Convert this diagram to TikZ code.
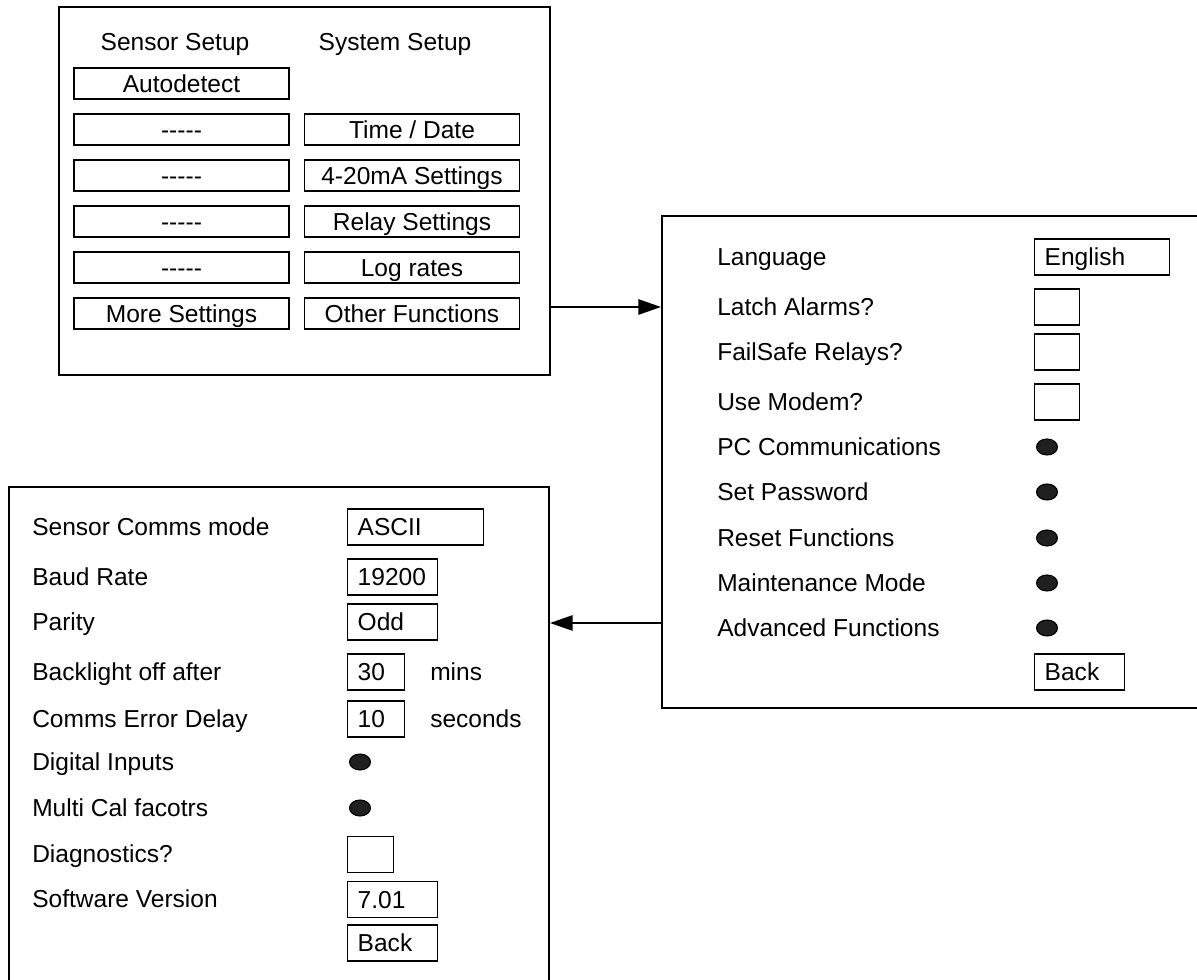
\documentclass[tikz,border=0pt]{standalone}
\usepackage{fontspec}
\setmainfont{Liberation Sans}
\usetikzlibrary{arrows.meta,shapes.geometric}
\newlength\pxu
\setlength{\pxu}{0.75pt}
% cap height of the 18.4pt face, used to centre every line of text on its row
\newlength\caph
\setlength{\caph}{13.17pt}
\tikzset{
  every node/.style={font=\fontsize{18.4pt}{22pt}\selectfont},
  panel/.style={draw, line width=1.5pt, rectangle, inner sep=0pt},
  btn/.style={draw, line width=1.1pt, inner sep=0pt, minimum width=215\pxu,
    minimum height=31\pxu, text height=\caph, text depth=0pt},
  field/.style={draw, line width=1.1pt, inner xsep=10\pxu, inner ysep=0pt,
    minimum height=36\pxu, text height=\caph, text depth=0pt,
    align=left, anchor=west, text width=#1},
  check/.style={draw, line width=1.1pt, inner sep=0pt, minimum width=#1,
    minimum height=36\pxu, anchor=west},
  dot/.style={ellipse, draw, fill=black!88, line width=0.8pt, inner sep=0pt,
    minimum width=21\pxu, minimum height=16\pxu},
  lbl/.style={anchor=west, inner sep=0pt, text height=\caph, text depth=0pt},
  hdr/.style={inner sep=0pt, text height=\caph, text depth=0pt},
  link/.style={line width=1.3pt, -{Triangle[length=17pt,width=11.5pt]}},
}
\newcommand{\blank}{-{}-{}-{}-{}-}
\begin{document}
\begin{tikzpicture}[x=0.75pt, y=-0.75pt]
\useasboundingbox (0,0) rectangle (1197,980);
\clip (0,0) rectangle (1197,980);

% ---------- main setup screen ----------
\node[panel, minimum width=491\pxu, minimum height=368\pxu] (main) at (304.5,191) {};
\node[hdr] (hsensor) at (175,42) {Sensor Setup};
\node[hdr] (hsystem) at (395,42) {System Setup};

\node[btn] (auto)  at (181.5,83.5)  {Autodetect};
\node[btn] (s1)    at (181.5,129.5) {\blank};
\node[btn] (s2)    at (181.5,175.5) {\blank};
\node[btn] (s3)    at (181.5,221.5) {\blank};
\node[btn] (s4)    at (181.5,267.5) {\blank};
\node[btn] (more)  at (181.5,313.5) {More Settings};

\node[btn] (time)  at (412,129.5) {Time / Date};
\node[btn] (ma)    at (412,175.5) {4-20mA Settings};
\node[btn] (relay) at (412,221.5) {Relay Settings};
\node[btn] (log)   at (412,267.5) {Log rates};
\node[btn] (other) at (412,313.5) {Other Functions};

% ---------- other functions screen ----------
\node[panel, minimum width=600\pxu, minimum height=492\pxu] (setup) at (962,462) {};

\node[lbl] (lLang)  at (717,257) {Language};
\node[lbl] (lLatch) at (717,307) {Latch Alarms?};
\node[lbl] (lFail)  at (717,352) {FailSafe Relays?};
\node[lbl] (lModem) at (717,402) {Use Modem?};
\node[lbl] (lPC)    at (717,447) {PC Communications};
\node[lbl] (lPass)  at (717,492) {Set Password};
\node[lbl] (lReset) at (717,538) {Reset Functions};
\node[lbl] (lMaint) at (717,583) {Maintenance Mode};
\node[lbl] (lAdv)   at (717,628) {Advanced Functions};

\node[field=115\pxu] (fLang) at (1034,257) {English};
\node[check=45\pxu] (cLatch) at (1034,307) {};
\node[check=45\pxu] (cFail)  at (1034,352) {};
\node[check=45\pxu] (cModem) at (1034,402) {};
\node[dot] (dPC)    at (1047,447) {};
\node[dot] (dPass)  at (1047,492) {};
\node[dot] (dReset) at (1047,538) {};
\node[dot] (dMaint) at (1047,583) {};
\node[dot] (dAdv)   at (1047,628) {};
\node[field=70\pxu] (bBack1) at (1034,672) {Back};

% ---------- more settings screen ----------
\node[panel, minimum width=540\pxu, minimum height=560\pxu] (comms) at (279,767) {};

\node[lbl] (lMode)  at (32,527) {Sensor Comms mode};
\node[lbl] (lBaud)  at (32,577) {Baud Rate};
\node[lbl] (lPar)   at (32,622) {Parity};
\node[lbl] (lLight) at (32,672) {Backlight off after};
\node[lbl] (lErr)   at (32,719) {Comms Error Delay};
\node[lbl] (lDig)   at (32,762) {Digital Inputs};
\node[lbl] (lCal)   at (32,808) {Multi Cal facotrs};
\node[lbl] (lDiag)  at (32,854) {Diagnostics?};
\node[lbl] (lVer)   at (32,899) {Software Version};

\node[field=116\pxu] (fMode)  at (347,527) {ASCII};
\node[field=70\pxu]  (fBaud)  at (347,577) {19200};
\node[field=70\pxu]  (fPar)   at (347,622) {Odd};
\node[field=37\pxu]  (fLight) at (347,672) {30};
\node[lbl] (uMins) at (430,672) {mins};
\node[field=37\pxu]  (fErr)   at (347,719) {10};
\node[lbl] (uSec)  at (430,719) {seconds};
\node[dot] (dDig) at (360,762) {};
\node[dot] (dCal) at (360,808) {};
\node[check=46\pxu] (cDiag) at (347,854.5) {};
\node[field=70\pxu] (fVer)   at (347,899.5) {7.01};
\node[field=70\pxu] (bBack2) at (347,943) {Back};

% ---------- navigation ----------
\coordinate (j1) at (600,307);
\coordinate (j2) at (600,623);
\draw[link] (main.east |- j1) -- (setup.west |- j1);
\draw[link] (setup.west |- j2) -- (comms.east |- j2);
\end{tikzpicture}
\end{document}
